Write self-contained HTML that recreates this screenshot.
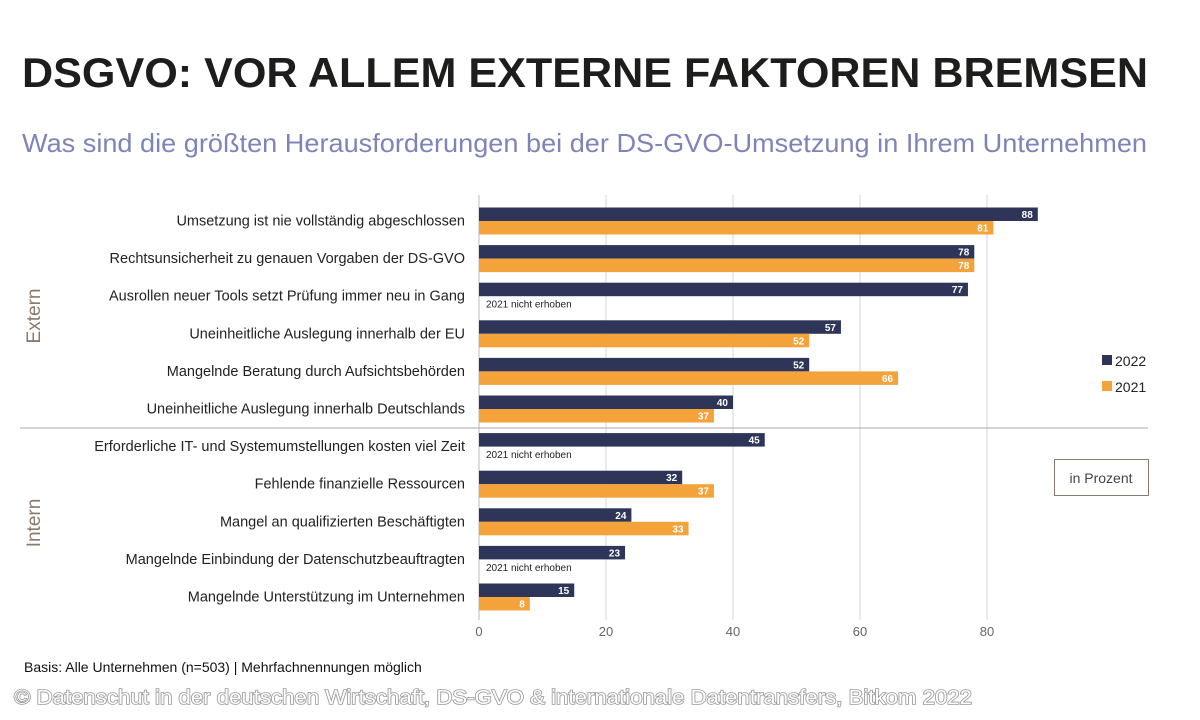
<!DOCTYPE html>
<html><head><meta charset="utf-8"><style>
body{margin:0;background:#fff;width:1200px;height:720px;overflow:hidden}
svg{display:block}
</style></head><body>
<svg width="1200" height="720" xmlns="http://www.w3.org/2000/svg" font-family="Liberation Sans, sans-serif">
<defs><filter id="glow" x="-5%" y="-50%" width="110%" height="200%"><feGaussianBlur in="SourceAlpha" stdDeviation="1.5"/><feComponentTransfer><feFuncA type="linear" slope="1.6"/></feComponentTransfer><feFlood flood-color="#666"/><feComposite operator="in" in2="SourceGraphic"/></filter></defs>
<text x="22" y="87" font-size="42" font-weight="bold" fill="#1d1d1b" textLength="1126" lengthAdjust="spacingAndGlyphs">DSGVO: VOR ALLEM EXTERNE FAKTOREN BREMSEN</text>
<text x="22" y="152" font-size="26" fill="#7f84b8" textLength="1125" lengthAdjust="spacingAndGlyphs">Was sind die größten Herausforderungen bei der DS-GVO-Umsetzung in Ihrem Unternehmen</text>
<g stroke="#d6d6d6" stroke-width="1">
<line x1="606" y1="195" x2="606" y2="620"/><line x1="733" y1="195" x2="733" y2="620"/>
<line x1="860" y1="195" x2="860" y2="620"/><line x1="987" y1="195" x2="987" y2="620"/>
</g>
<line x1="479" y1="195" x2="479" y2="620" stroke="#bbb"/>
<line x1="20" y1="428" x2="1148" y2="428" stroke="#aaa"/>
<g id="bars" font-size="10" font-weight="bold" fill="#fff" text-anchor="end"></g>
<g id="labels" font-size="14.5" fill="#222" text-anchor="end"></g>
<g font-size="13" fill="#666" text-anchor="middle">
<text x="479" y="636">0</text><text x="606" y="636">20</text><text x="733" y="636">40</text><text x="860" y="636">60</text><text x="987" y="636">80</text>
</g>
<text transform="translate(40,316) rotate(-90)" font-size="19" fill="#8a7a6e" text-anchor="middle">Extern</text>
<text transform="translate(40,523) rotate(-90)" font-size="19" fill="#8a7a6e" text-anchor="middle">Intern</text>
<rect x="1102" y="355" width="10" height="10" fill="#2e3558"/>
<text x="1115" y="366" font-size="14" fill="#222">2022</text>
<rect x="1102" y="381" width="10" height="10" fill="#f4a23a"/>
<text x="1115" y="392" font-size="14" fill="#222">2021</text>
<rect x="1054.5" y="459.5" width="94" height="36" fill="#fff" stroke="#8a7a6e"/>
<text x="1101" y="483" font-size="14" fill="#444" text-anchor="middle">in Prozent</text>
<text x="24" y="672" font-size="14" fill="#111">Basis: Alle Unternehmen (n=503) | Mehrfachnennungen möglich</text>
<text x="14" y="704" font-size="20.5" fill="#fff" stroke="#999" stroke-width="1.6" paint-order="stroke" textLength="958" lengthAdjust="spacingAndGlyphs">© Datenschut in der deutschen Wirtschaft, DS-GVO &amp; internationale Datentransfers, Bitkom 2022</text>
</svg>
<script>
var d=[["Umsetzung ist nie vollständig abgeschlossen",88,81],["Rechtsunsicherheit zu genauen Vorgaben der DS-GVO",78,78],["Ausrollen neuer Tools setzt Prüfung immer neu in Gang",77,null],["Uneinheitliche Auslegung innerhalb der EU",57,52],["Mangelnde Beratung durch Aufsichtsbehörden",52,66],["Uneinheitliche Auslegung innerhalb Deutschlands",40,37],["Erforderliche IT- und Systemumstellungen kosten viel Zeit",45,null],["Fehlende finanzielle Ressourcen",32,37],["Mangel an qualifizierten Beschäftigten",24,33],["Mangelnde Einbindung der Datenschutzbeauftragten",23,null],["Mangelnde Unterstützung im Unternehmen",15,8]];
var ns="http://www.w3.org/2000/svg",B=document.getElementById("bars"),L=document.getElementById("labels");
function el(p,t,a,tx){var e=document.createElementNS(ns,t);for(var k in a)e.setAttribute(k,a[k]);if(tx!=null)e.textContent=tx;p.appendChild(e);}
d.forEach(function(r,i){var y=207.5+i*37.6;
el(L,"text",{x:465,y:y+18},r[0]);
var w=r[1]*6.35;el(B,"rect",{x:479,y:y,width:w,height:13.5,fill:"#2e3558"});el(B,"text",{x:479+w-5,y:y+10.5},r[1]);
if(r[2]!=null){var w2=r[2]*6.35;el(B,"rect",{x:479,y:y+13.5,width:w2,height:13.5,fill:"#f4a23a"});el(B,"text",{x:479+w2-5,y:y+24},r[2]);}
else el(B,"text",{x:486,y:y+25,fill:"#222","font-weight":"normal","text-anchor":"start","font-size":"10"},"2021 nicht erhoben");
});
</script>
</body></html>
